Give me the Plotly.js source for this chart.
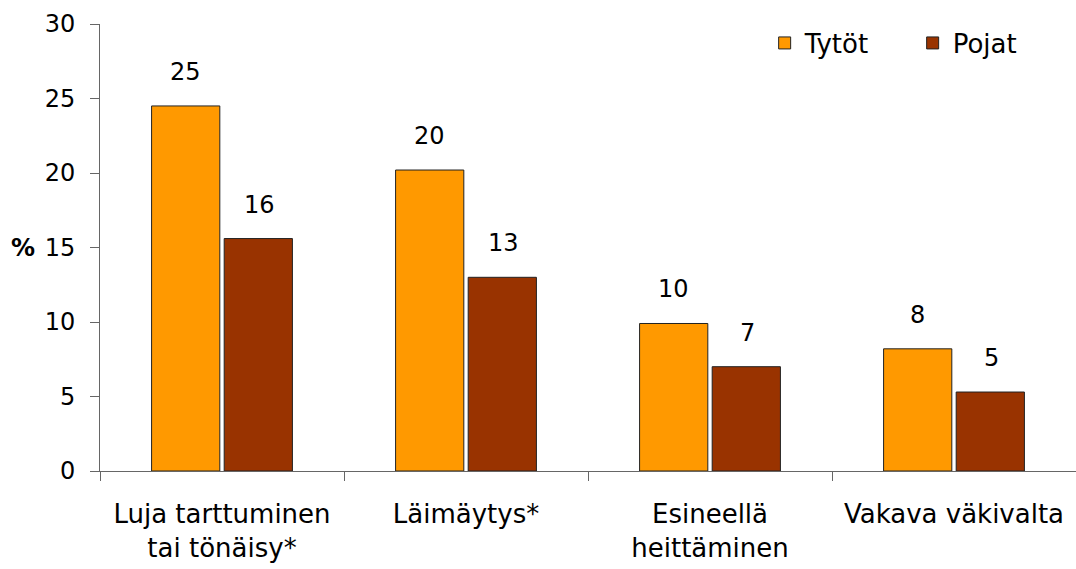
<!DOCTYPE html>
<html>
<head>
<meta charset="utf-8">
<script src="https://cdn.plot.ly/plotly-3.0.1.min.js"></script>
<style>html,body{margin:0;padding:0;background:#fff;}#chart{width:1076px;height:569px;}</style>
</head>
<body>
<div id="chart"></div>
<script>
const categories = ["Luja tarttuminen<br>tai tönäisy*", "Läimäytys*", "Esineellä<br>heittäminen", "Vakava väkivalta"];
const tytot = [24.5, 20.2, 9.9, 8.2];
const pojat = [15.6, 13.0, 7.0, 5.3];
const tytotLabels = ["25", "20", "10", "8"];
const pojatLabels = ["16", "13", "7", "5"];
const yTicks = [0, 5, 10, 15, 20, 25, 30];

const FONT = "DejaVu Sans, Liberation Sans, Arial, sans-serif";

const traces = [
  {type: "bar", name: "Tytöt", x: categories, y: tytot,
   marker: {color: "#FF9900", line: {color: "#222", width: 1}}, hoverinfo: "none"},
  {type: "bar", name: "Pojat", x: categories, y: pojat,
   marker: {color: "#993300", line: {color: "#222", width: 1}}, hoverinfo: "none"}
];

const annotations = [];
categories.forEach((c, i) => {
  annotations.push({x: c, y: tytot[i], text: tytotLabels[i], showarrow: false, xshift: -37, yshift: 18, yanchor: "bottom", font: {size: 24, color: "#000", family: FONT}});
  annotations.push({x: c, y: pojat[i], text: pojatLabels[i], showarrow: false, xshift: 37, yshift: 18, yanchor: "bottom", font: {size: 24, color: "#000", family: FONT}});
});
annotations.push({xref: "paper", yref: "paper", x: -0.079, y: 0.5, text: "<b>%</b>", showarrow: false, xanchor: "center", yanchor: "middle", font: {size: 24, color: "#000", family: FONT}});

const layout = {
  width: 1076, height: 569,
  margin: {l: 100, r: 0, t: 24, b: 98, pad: 0, autoexpand: false},
  paper_bgcolor: "#fff", plot_bgcolor: "#fff",
  font: {family: FONT, size: 24, color: "#000"},
  barmode: "group", bargap: 0.405, bargroupgap: 0.06,
  showlegend: true,
  legend: {orientation: "h", x: 0.681, y: 1.01, xanchor: "left", yanchor: "top",
           font: {size: 26, family: FONT}, entrywidth: 103, entrywidthmode: "pixels", bgcolor: "rgba(0,0,0,0)"},
  xaxis: {showline: true, linecolor: "#666", linewidth: 1, ticks: "outside", ticklen: 9, tickcolor: "#666",
          tickson: "boundaries", tickfont: {size: 26, family: FONT}, ticklabelstandoff: 20,
          showgrid: false, zeroline: false, fixedrange: true},
  yaxis: {range: [0, 30], tickvals: yTicks, ticktext: yTicks.map(String), showline: true, linecolor: "#666", linewidth: 1,
          ticks: "outside", ticklen: 9, tickcolor: "#666", tickfont: {size: 24, family: FONT}, ticklabelstandoff: 10,
          showgrid: false, zeroline: false, fixedrange: true},
  annotations: annotations
};

Plotly.newPlot("chart", traces, layout, {displayModeBar: false, staticPlot: true});
</script>
</body>
</html>
